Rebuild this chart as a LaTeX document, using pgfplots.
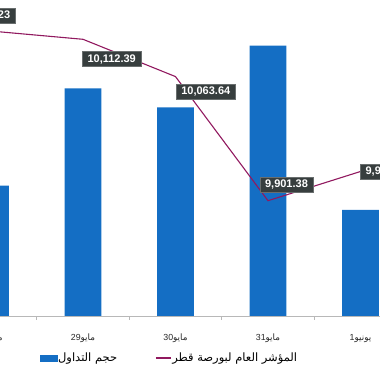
\documentclass[border=0pt]{standalone}
\usepackage{fontspec}
\setmainfont{Liberation Sans}
\newfontfamily\arabicfont[Script=Arabic]{DejaVu Sans}
\TeXXeTstate=1
\usepackage{pgfplots}
\usepackage{pgfplotstable}
\pgfplotsset{compat=1.18}
\definecolor{barblue}{RGB}{20,110,196}
\definecolor{linecol}{RGB}{145,25,95}
\definecolor{labbg}{RGB}{55,62,62}
\newcommand{\ar}[1]{{\arabicfont\beginR #1\endR}}
\newcommand{\dl}[2]{\beginR{\arabicfont #1}\beginL #2\endL\endR}

\pgfplotstableread{
x v
0 130.3
1 227.7
2 208.7
3 270.3
4 106.0
}\voltable

\pgfplotstableread{
x y lab dx dy
0 10123.23 10,123.23 -4.8 15.5
1 10112.39 10,112.39 28.7 -19.9
2 10063.64 10,063.64 30.3 -15.2
3 9901.38 9,901.38 18.5 15.8
4 9939.56 9,939.56 26.5 0
}\idxtable

\begin{document}
\begin{tikzpicture}
\useasboundingbox (0,0) rectangle (380pt,372pt);
\clip (0,0) rectangle (380pt,372pt);
\begin{axis}[
  at={(-102pt,56pt)}, anchor=south west,
  scale only axis, width=555pt, height=316pt,
  xmin=-1, xmax=5, ymin=0, ymax=316,
  axis x line*=bottom, axis y line=none,
  axis line style={draw=black!28, line width=0.8pt},
  xtick={0,1,2,3,4},
  xticklabels={\dl{مايو}{28},\dl{مايو}{29},\dl{مايو}{30},\dl{مايو}{31},\dl{يونيو}{1}},
  major tick length=0pt,
  minor xtick={-0.5,0.5,1.5,2.5,3.5,4.5},
  minor tick length=4pt, tick align=outside,
  minor tick style={draw=black!28, line width=0.8pt},
  xticklabel style={font=\fontsize{8.8}{10}\selectfont, text=black!85, anchor=base, yshift=-24.5pt},
  ytick=\empty,
  clip=false, ybar, bar width=36.7pt,
]
\addplot[fill=barblue, draw=none] table[x=x,y=v]{\voltable};
\end{axis}
\begin{axis}[
  at={(-102pt,56pt)}, anchor=south west,
  scale only axis, width=555pt, height=316pt,
  xmin=-1, xmax=5, ymin=9750.64, ymax=10163.77,
  axis lines=none, xtick=\empty, ytick=\empty,
  clip=false,
  legend columns=2,
  legend style={at={(axis description cs:0.4886,-0.1329)}, anchor=center,
    draw=none, fill=none, font=\fontsize{11.5}{13}\selectfont,
    nodes={inner xsep=1pt, inner ysep=0pt},
    /tikz/every even column/.append style={column sep=37pt}},
]
\addlegendimage{legend image code/.code={\fill[barblue] (0pt,-3pt) rectangle (16.5pt,3pt);}}
\addlegendentry{\ar{حجم التداول}}
\addplot[linecol, line width=1.1pt, mark=none,
  legend image code/.code={\draw[linecol,line width=1.1pt] (0pt,0pt) -- (15pt,0pt);},
  nodes near coords, point meta=explicit symbolic,
  visualization depends on={\thisrow{dx} \as \ldx},
  visualization depends on={\thisrow{dy} \as \ldy},
  nodes near coords style={anchor=center, xshift=\ldx pt, yshift=\ldy pt,
    fill=labbg, draw=labbg!75!white, line width=0.4pt, text=white,
    font=\bfseries\fontsize{11}{12}\selectfont,
    inner xsep=5pt, inner ysep=0pt, minimum height=15pt},
] table[x=x,y=y,meta=lab]{\idxtable};
\addlegendentry{\ar{المؤشر العام لبورصة قطر}}
\end{axis}
\end{tikzpicture}
\end{document}
